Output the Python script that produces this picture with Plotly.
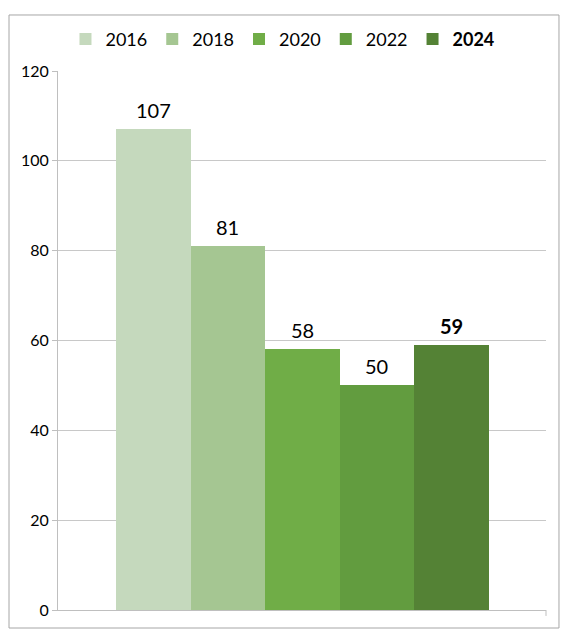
import plotly.graph_objects as go

years = ["2016", "2018", "2020", "2022", "2024"]
values = [107, 81, 58, 50, 59]
colors = ["#C5D9BD", "#A5C692", "#70AD47", "#629C3F", "#548235"]
bold = [False, False, False, False, True]

fig = go.Figure()
for year, val, col, b in zip(years, values, colors, bold):
    fig.add_trace(
        go.Bar(
            x=[year],
            y=[val],
            name="<b>" + year + "</b>" if b else year,
            marker=dict(color=col, line=dict(width=0)),
        )
    )

# page has an 8px body margin, so layout numbers are shifted by 8
fig.update_layout(
    width=578,
    height=643,
    barmode="overlay",
    bargap=0,
    plot_bgcolor="white",
    paper_bgcolor="white",
    font=dict(family="Lato, Open Sans, sans-serif", color="black"),
    margin=dict(l=50, r=40, t=63, b=41),
    legend=dict(
        orientation="h",
        x=0.46, xanchor="center",
        y=1.059, yanchor="middle",
        font=dict(size=18),
        itemwidth=30,
        traceorder="normal",
    ),
    xaxis=dict(
        type="category",
        categoryorder="array", categoryarray=years,
        range=[-1.28, 5.27],
        showline=True, linecolor="#BFBFBF", linewidth=1,
        showticklabels=False, ticks="", showgrid=False,
    ),
    yaxis=dict(
        range=[0, 120], dtick=20,
        showline=True, linecolor="#BFBFBF", linewidth=1,
        gridcolor="#C8C8C8", gridwidth=1,
        ticks="outside", ticklen=5, tickcolor="#BFBFBF",
        tickfont=dict(size=16), zeroline=False,
    ),
    shapes=[
        dict(type="rect", xref="paper", yref="paper",
             x0=-0.1004, x1=1.0266, y0=-0.0334, y1=1.1039,
             line=dict(color="#A6A6A6", width=1), fillcolor="rgba(0,0,0,0)"),
        # small category tick at right end of x axis
        dict(type="line", xref="paper", yref="paper",
             x0=1, x1=1, y0=0, y1=-0.011,
             line=dict(color="#BFBFBF", width=1)),
    ],
)

# value labels sit a bit above each bar top (x given as category index)
for i, (val, b) in enumerate(zip(values, bold)):
    fig.add_annotation(
        x=i, y=val, xref="x", yref="y",
        text="<b>%d</b>" % val if b else str(val),
        showarrow=False, yanchor="bottom", yshift=5,
        font=dict(size=20, color="black"),
    )

fig.write_html("out.html")
